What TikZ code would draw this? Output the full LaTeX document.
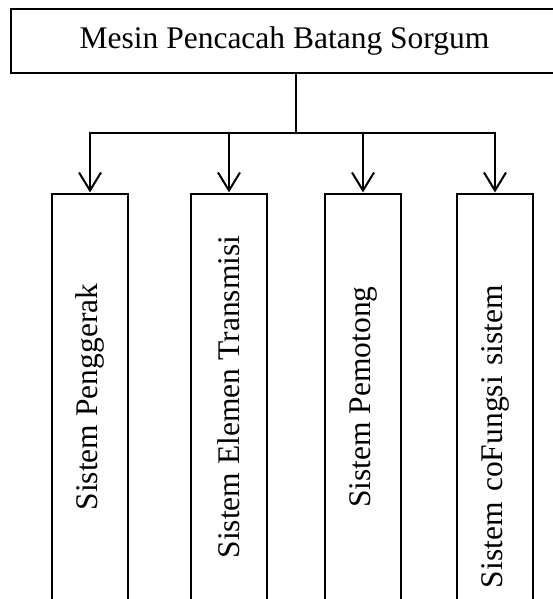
\documentclass[tikz,border=0pt]{standalone}
\usepackage{fontspec}
\setmainfont{Liberation Serif}
\usetikzlibrary{arrows.meta,positioning}

\begin{document}
\begin{tikzpicture}[x=1pt,y=-1pt,
	font=\fontsize{31.5}{36}\selectfont,
	sub/.style={draw,line width=1.2pt,rotate=90,minimum width=406pt,minimum height=76pt,inner sep=0pt},
	panah/.style={line width=2pt,shorten >=1pt,-{Straight Barb[length=18pt,width=22pt]}}]
	\useasboundingbox (0,0) rectangle (553,599);
	\clip (0,0) rectangle (553,599);
	\node[draw,line width=1.2pt,minimum width=547pt,minimum height=64pt] (0) at (284.5,41)
	{Mesin Pencacah Batang Sorgum};
	\node[sub] (1) at (90,397) {Sistem Penggerak};
	\node[sub] (2) at (229,397) {Sistem Elemen Transmisi};
	\node[sub] (3) at (363,397) {Sistem Pemotong};
	\node[sub,text width=382pt,inner xsep=12pt,align=left] (4) at (495,397)
	{Sistem coFungsi sistem};
	\coordinate (c) at (296,133);
	\draw[line width=2pt] (0.south -| c) -- (c);
	\draw[panah] (c) -| (1);
	\draw[panah] (c) -| (2);
	\draw[panah] (c) -| (3);
	\draw[panah] (c) -| (4);
\end{tikzpicture}
\end{document}
